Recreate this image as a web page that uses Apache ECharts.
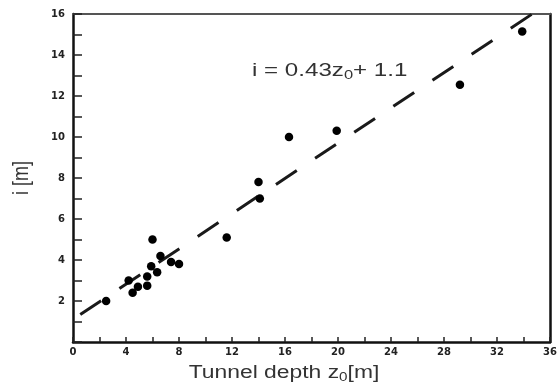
<!DOCTYPE html>
<html>
<head>
<meta charset="utf-8">
<script src="https://cdn.jsdelivr.net/npm/echarts@6/dist/echarts.min.js"></script>
<style>
html,body{margin:0;padding:0;background:#fff;}
#chart{width:560px;height:387px;}
</style>
</head>
<body>
<div id="chart"></div>
<script>
// Measured points: tunnel depth z0 [m] and trough width i [m]
const depthZ0 = [2.5, 4.2, 4.5, 4.9, 5.6, 5.6, 5.9, 6.0, 6.35, 6.6, 7.4, 8.0, 11.6, 14.0, 14.1, 16.3, 19.9, 29.2, 33.9];
const widthI  = [2.0, 3.0, 2.4, 2.7, 2.75, 3.2, 3.7, 5.0, 3.4, 4.2, 3.9, 3.8, 5.1, 7.8, 7.0, 10.0, 10.3, 12.55, 15.15];
// Fitted line i = 0.43 z0 + 1.1 : end points as drawn
const fitZ = [0.55, 34.65];
const fitI = [1.34, 16.0];
const xTicks = [0, 4, 8, 12, 16, 20, 24, 28, 32, 36];
const yTicks = [2, 4, 6, 8, 10, 12, 14, 16];

const points = depthZ0.map((z, k) => [z, widthI[k]]);
const fitLine = fitZ.map((z, k) => [z, fitI[k]]);

const chart = echarts.init(document.getElementById('chart'), null, {renderer: 'canvas'});
const labelFont = {fontFamily: 'DejaVu Sans', fontWeight: 'bold', fontSize: 10, color: '#222'};
chart.setOption({
  animation: false,
  backgroundColor: '#fff',
  grid: {left: 73, right: 3, top: 14, bottom: 45, containLabel: false},
  xAxis: [{
    type: 'value', min: 0, max: 36, interval: 2,
    axisLine: {onZero: false, lineStyle: {color: '#111', width: 2.5}},
    axisTick: {inside: true, length: 5, lineStyle: {color: '#222', width: 1.5}},
    axisLabel: Object.assign({margin: 5, formatter: v => xTicks.includes(v) ? String(v) : ''}, labelFont),
    splitLine: {show: false}
  }, {
    type: 'value', min: 0, max: 36, interval: 2, position: 'top',
    axisLine: {show: true, onZero: false, lineStyle: {color: '#555', width: 2}},
    axisTick: {show: false}, axisLabel: {show: false}, splitLine: {show: false}
  }],
  yAxis: [{
    type: 'value', min: 0, max: 16, interval: 1,
    axisLine: {show: true, onZero: false, lineStyle: {color: '#111', width: 2.5}},
    axisTick: {inside: true, length: 9, lineStyle: {color: '#222', width: 1.5}},
    axisLabel: Object.assign({margin: 8, formatter: v => yTicks.includes(v) ? String(v) : ''}, labelFont),
    splitLine: {show: false}
  }, {
    type: 'value', min: 0, max: 16, interval: 1, position: 'right',
    axisLine: {show: true, onZero: false, lineStyle: {color: '#111', width: 2.5}},
    axisTick: {show: false}, axisLabel: {show: false}, splitLine: {show: false}
  }],
  series: [{
    type: 'line', data: fitLine, showSymbol: false, symbol: 'none',
    lineStyle: {color: '#1a1a1a', width: 3, type: [25, 22]}, z: 2
  }, {
    type: 'scatter', data: points, symbol: 'circle', symbolSize: 8.5,
    itemStyle: {color: '#000', opacity: 1}, z: 3
  }],
  graphic: [{
    type: 'text', left: 252, top: 60, scaleX: 1.27,
    style: {
      text: '{a|i = 0.43z}{s|0}{a|+ 1.1}',
      rich: {
        a: {fontFamily: 'Liberation Sans', fontSize: 19, fill: '#333', lineHeight: 22},
        s: {fontFamily: 'Liberation Sans', fontSize: 13, fill: '#333', lineHeight: 22, padding: [9, 0, 0, 0]}
      }
    }
  }, {
    type: 'text', x: 284, y: 373, scaleX: 1.27,
    style: {
      text: '{a|Tunnel depth z}{s|0}{a|[m]}',
      align: 'center', verticalAlign: 'middle',
      rich: {
        a: {fontFamily: 'Liberation Sans', fontSize: 18, fill: '#333', lineHeight: 22},
        s: {fontFamily: 'Liberation Sans', fontSize: 12, fill: '#333', lineHeight: 22, padding: [9, 0, 0, 0]}
      }
    }
  }, {
    type: 'text', x: 22, y: 178, rotation: Math.PI / 2, scaleY: 1.27,
    style: {
      text: 'i [m]', align: 'center', verticalAlign: 'middle',
      fontFamily: 'Liberation Sans', fontSize: 18, fill: '#333'
    }
  }]
});
</script>
</body>
</html>
